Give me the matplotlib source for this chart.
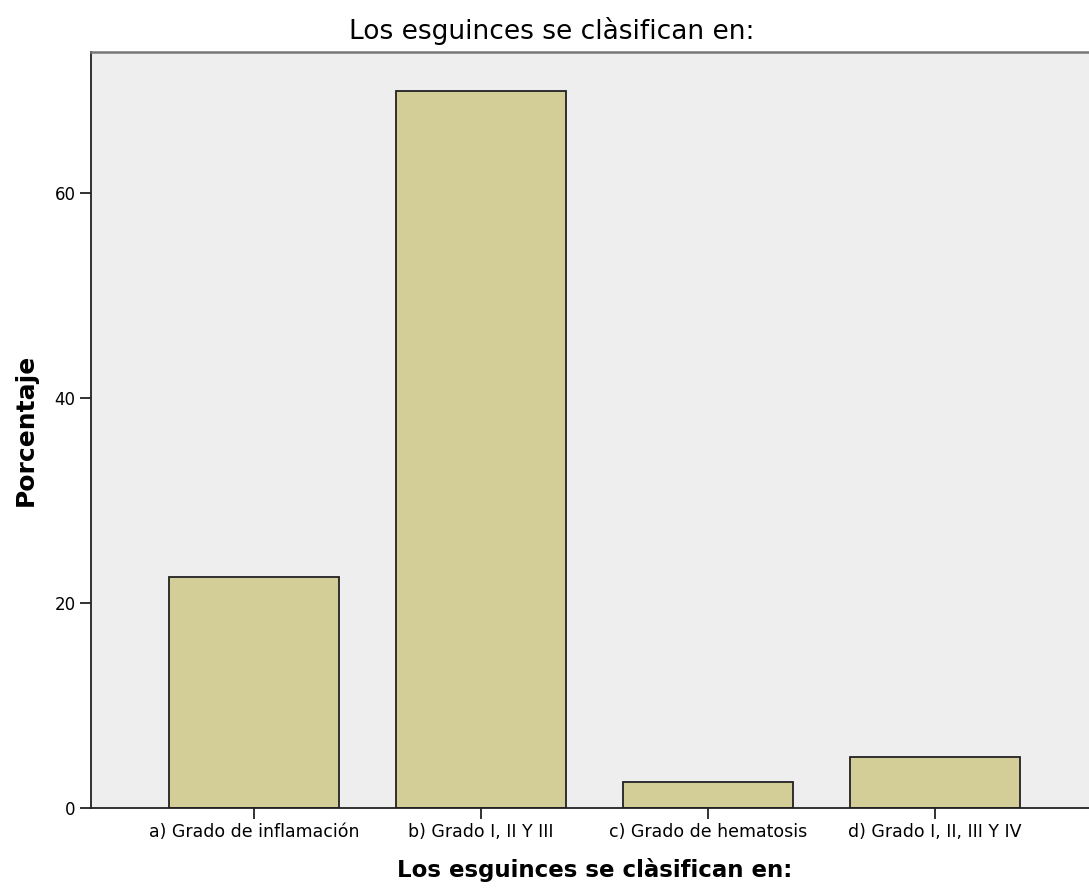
import numpy as np
from matplotlib import pyplot as plt

# datos
categorias = ['a) Grado de inflamación', 'b) Grado I, II Y III',
              'c) Grado de hematosis', 'd) Grado I, II, III Y IV']
porcentajes = [22.5, 70.0, 2.5, 5.0]
yticks = [0, 20, 40, 60]
titulo = 'Los esguinces se clàsifican en:'

fig = plt.figure(figsize=(10.89, 8.92), dpi=100)
ax = fig.add_axes([91 / 1089, 84 / 892, 1007 / 1089, 756 / 892])
ax.set_facecolor('#eeeeee')

x = np.arange(len(categorias))
ax.bar(x, porcentajes, width=0.75, color='#d3ce97', edgecolor='#222222', linewidth=1.3)

ax.set_xlim(-0.718, 3.718)
ax.set_ylim(0, 73.76)
ax.set_xticks(x)
ax.set_xticklabels(categorias, fontsize=12.5)
ax.set_yticks(yticks)
ax.set_yticklabels([str(v) for v in yticks], fontsize=12)
ax.tick_params(axis='both', length=8, width=1.3, color='#222222', pad=3)

for s in ['left', 'bottom']:
    ax.spines[s].set_linewidth(1.3)
    ax.spines[s].set_color('#222222')
ax.spines['top'].set_color('#777777')
ax.spines['top'].set_linewidth(1.8)

# titulo centrado en la figura
fig.text(552 / 1089, 1 - 31 / 892, titulo, fontsize=19, ha='center', va='center')
ax.set_xlabel(titulo, fontsize=16.5, fontweight='bold', labelpad=12)
ax.set_ylabel('Porcentaje', fontsize=18, fontweight='bold', labelpad=12)

fig.savefig('out.png', dpi=100)
